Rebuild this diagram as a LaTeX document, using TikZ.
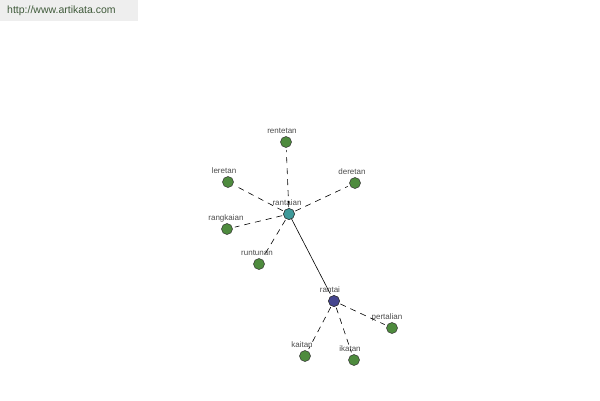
\documentclass[tikz,border=0pt]{standalone}
\usepackage{fontspec}
\setmainfont{Liberation Sans}
\begin{document}
\begin{tikzpicture}[x=1pt,y=-1pt,
  dot/.style={circle,draw=black!80,line width=0.5pt,inner sep=0pt,minimum size=11pt},
  lbl/.style={font=\fontsize{8}{9}\selectfont,text=black!70,inner sep=0pt},
  dline/.style={dashed,dash pattern=on 6pt off 5pt,line width=0.6pt,shorten <=7pt,shorten >=8pt},
  sline/.style={line width=0.6pt,shorten <=5pt,shorten >=8pt}]
\useasboundingbox (0,0) rectangle (600,400);
\definecolor{gdotc}{HTML}{4E8B3E}
\definecolor{tdotc}{HTML}{3E9A9A}
\definecolor{bdotc}{HTML}{45468F}
\definecolor{hdrbg}{HTML}{EEEEEE}
\definecolor{hdrtx}{HTML}{3F5A3A}
\fill[hdrbg] (0,0) rectangle (138,21);
\node[font=\fontsize{10.5}{12}\selectfont,text=hdrtx,anchor=west,inner sep=0pt] (hdr) at (7,11) {http://www.artikata.com};
% nodes
\node[dot,fill=tdotc] (rantaian) at (289,214) {};
\node[dot,fill=bdotc] (rantai) at (334,301) {};
\node[dot,fill=gdotc] (rentetan) at (286,142) {};
\node[dot,fill=gdotc] (leretan) at (228,182) {};
\node[dot,fill=gdotc] (deretan) at (355,183) {};
\node[dot,fill=gdotc] (rangkaian) at (227,229) {};
\node[dot,fill=gdotc] (runtunan) at (259,264) {};
\node[dot,fill=gdotc] (pertalian) at (392,328) {};
\node[dot,fill=gdotc] (kaitan) at (305,356) {};
\node[dot,fill=gdotc] (ikatan) at (354,360) {};
% labels
\node[lbl] (l1) at (287,203) {rantaian};
\node[lbl] (l2) at (330,290) {rantai};
\node[lbl] (l3) at (282,131) {rentetan};
\node[lbl] (l4) at (224,171) {leretan};
\node[lbl] (l5) at (352,172) {deretan};
\node[lbl] (l6) at (226,218) {rangkaian};
\node[lbl] (l7) at (257,253) {runtunan};
\node[lbl] (l8) at (387,317) {pertalian};
\node[lbl] (l9) at (302,345) {kaitan};
\node[lbl] (l10) at (350,349) {ikatan};
% connectors
\draw[dline] (rantaian.center) -- (rentetan.center);
\draw[dline] (rantaian.center) -- (leretan.center);
\draw[dline] (rantaian.center) -- (deretan.center);
\draw[dline] (rantaian.center) -- (rangkaian.center);
\draw[dline] (rantaian.center) -- (runtunan.center);
\draw[sline] (rantaian.center) -- (rantai.center);
\draw[dline] (rantai.center) -- (pertalian.center);
\draw[dline] (rantai.center) -- (kaitan.center);
\draw[dline] (rantai.center) -- (ikatan.center);
% redraw dots on top
\node[dot,fill=tdotc] at (rantaian) {};
\node[dot,fill=bdotc] at (rantai) {};
\end{tikzpicture}
\end{document}
